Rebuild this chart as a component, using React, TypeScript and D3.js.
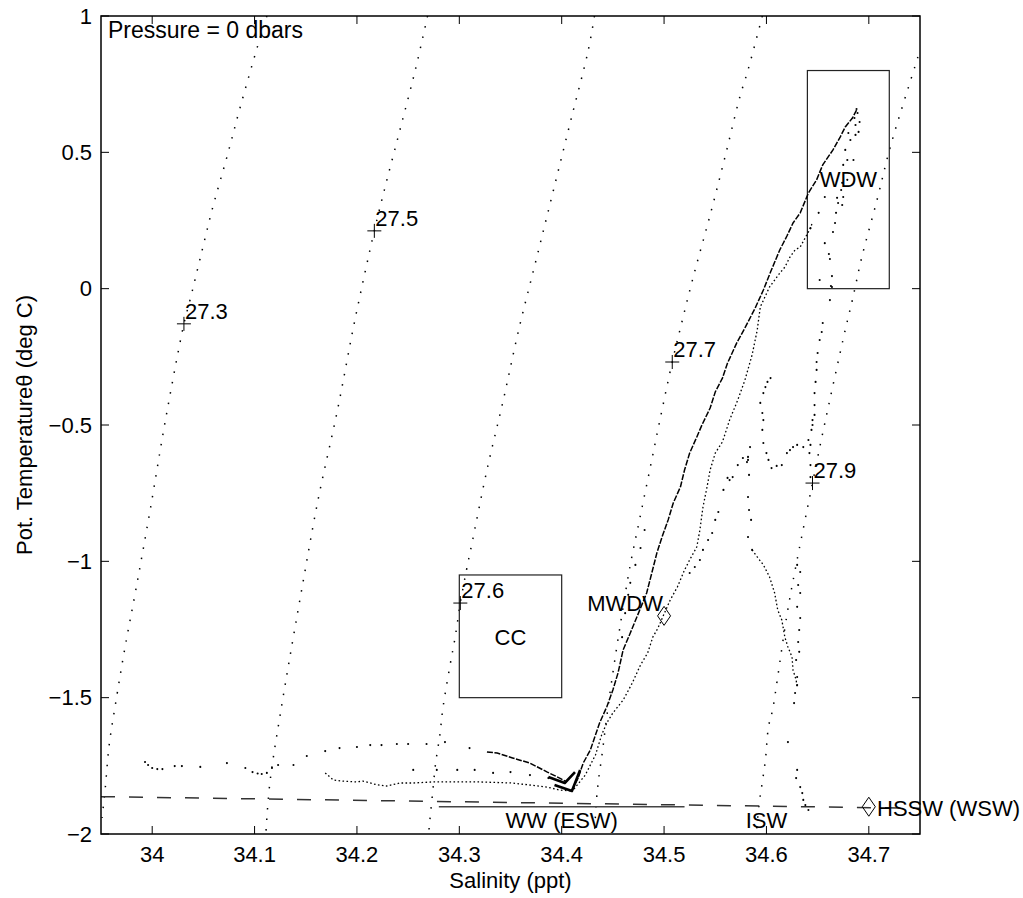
import React from 'react';
import * as d3 from 'd3';

type P = [number, number];

const W = 1023;
const H = 898;
const M = { left: 101, right: 920, top: 16, bottom: 834 };

const xDomain: P = [33.95, 34.75];
const yDomain: P = [-2, 1];
const xTicks = [34, 34.1, 34.2, 34.3, 34.4, 34.5, 34.6, 34.7];
const xTickLabels = ['34', '34.1', '34.2', '34.3', '34.4', '34.5', '34.6', '34.7'];
const yTicks = [-2, -1.5, -1, -0.5, 0, 0.5, 1];
const yTickLabels = ['\u22122', '\u22121.5', '\u22121', '\u22120.5', '0', '0.5', '1'];

// isopycnals (sigma-0)
const iso273: P[] = [[34.112, 1.0], [34.103, 0.89], [34.086, 0.666], [34.073, 0.483], [34.059, 0.296], [34.047, 0.113], [34.037, -0.041], [34.031, -0.129], [34.013, -0.481], [33.998, -0.812], [33.984, -1.105], [33.973, -1.325], [33.964, -1.527], [33.958, -1.673], [33.954, -1.838], [33.951, -1.941]];
const iso275: P[] = [[34.269, 1.0], [34.257, 0.802], [34.242, 0.582], [34.228, 0.38], [34.217, 0.212], [34.198, -0.115], [34.181, -0.445], [34.162, -0.775], [34.146, -1.105], [34.134, -1.362], [34.125, -1.563], [34.118, -1.728], [34.114, -1.846], [34.111, -2.0]];
const iso276: P[] = [[34.432, 1.0], [34.426, 0.875], [34.409, 0.619], [34.392, 0.362], [34.375, 0.105], [34.358, -0.151], [34.343, -0.408], [34.327, -0.665], [34.313, -0.922], [34.307, -1.032], [34.301, -1.153], [34.296, -1.277], [34.291, -1.38], [34.284, -1.538], [34.281, -1.637], [34.277, -1.736], [34.274, -1.846], [34.271, -1.959], [34.27, -2.0]];
const iso277: P[] = [[34.596, 1.0], [34.582, 0.802], [34.574, 0.703], [34.56, 0.49], [34.545, 0.27], [34.529, 0.05], [34.516, -0.144], [34.508, -0.269], [34.496, -0.481], [34.486, -0.665], [34.476, -0.848], [34.467, -1.013], [34.458, -1.215], [34.449, -1.435], [34.443, -1.6], [34.44, -1.692], [34.436, -1.802], [34.434, -1.875], [34.432, -2.0]];
const iso279: P[] = [[34.754, 0.923], [34.748, 0.85], [34.721, 0.52], [34.708, 0.325], [34.693, 0.113], [34.684, -0.041], [34.677, -0.151], [34.655, -0.529], [34.645, -0.713], [34.628, -1.032], [34.62, -1.197], [34.611, -1.424], [34.606, -1.545], [34.602, -1.607], [34.599, -1.728], [34.596, -1.809], [34.593, -1.886], [34.59, -2.0]];
const isopycnals = [iso273, iso275, iso276, iso277, iso279];

const isoLabelText = ['27.3', '27.5', '27.6', '27.7', '27.9'];
const isoLabelPos: P[] = [[34.031, -0.129], [34.217, 0.212], [34.301, -1.153], [34.508, -0.269], [34.645, -0.713]];

const surfaceUpperLeft: P[] = [[33.993, -1.736], [33.996, -1.747], [34.0, -1.758], [34.005, -1.762], [34.01, -1.762], [34.022, -1.751], [34.029, -1.751], [34.047, -1.754], [34.073, -1.74], [34.091, -1.758], [34.098, -1.773], [34.103, -1.778], [34.107, -1.78], [34.112, -1.776], [34.117, -1.758], [34.123, -1.747], [34.138, -1.747]];
const surfaceArcSparse: P[] = [[34.151, -1.714], [34.169, -1.696], [34.183, -1.685], [34.2, -1.681], [34.213, -1.674], [34.224, -1.674], [34.239, -1.67], [34.25, -1.67], [34.268, -1.67], [34.286, -1.663], [34.31, -1.685]];
const surfaceArcDense: P[] = [[34.327, -1.699], [34.337, -1.703], [34.352, -1.721], [34.369, -1.74], [34.386, -1.773], [34.398, -1.795], [34.405, -1.809]];
const surfaceLower: P[] = [[34.169, -1.776], [34.177, -1.802], [34.186, -1.806], [34.2, -1.809], [34.206, -1.806], [34.22, -1.82], [34.229, -1.824], [34.242, -1.813], [34.255, -1.813], [34.274, -1.809], [34.288, -1.809], [34.32, -1.809], [34.352, -1.813], [34.386, -1.828], [34.398, -1.839], [34.41, -1.842]];
const surfaceMid: P[] = [[34.255, -1.765], [34.278, -1.765], [34.298, -1.765], [34.315, -1.765], [34.333, -1.776], [34.35, -1.773], [34.369, -1.784], [34.387, -1.795]];
const vertexLower: P[] = [[34.393, -1.82], [34.41, -1.842], [34.418, -1.765]];
const vertexUpper: P[] = [[34.387, -1.791], [34.403, -1.813], [34.413, -1.773]];

const branchL: P[] = [[34.41, -1.839], [34.416, -1.795], [34.421, -1.74], [34.428, -1.692], [34.437, -1.593], [34.444, -1.534], [34.45, -1.472], [34.455, -1.41], [34.46, -1.325], [34.467, -1.263], [34.475, -1.19], [34.483, -1.116], [34.488, -1.043], [34.493, -0.969], [34.498, -0.911], [34.504, -0.848], [34.509, -0.786], [34.516, -0.727], [34.52, -0.665], [34.525, -0.603], [34.532, -0.544], [34.537, -0.5], [34.545, -0.438], [34.55, -0.379], [34.557, -0.328], [34.562, -0.273], [34.571, -0.199], [34.579, -0.144], [34.589, -0.071], [34.597, -0.005], [34.604, 0.061], [34.613, 0.142], [34.62, 0.193], [34.626, 0.241], [34.633, 0.278], [34.641, 0.351], [34.649, 0.399], [34.655, 0.454], [34.665, 0.509], [34.672, 0.556], [34.677, 0.593], [34.684, 0.626], [34.688, 0.655]];
const branchR: P[] = [[34.412, -1.835], [34.423, -1.784], [34.433, -1.71], [34.439, -1.637], [34.444, -1.593], [34.45, -1.556], [34.46, -1.509], [34.469, -1.446], [34.477, -1.38], [34.484, -1.336], [34.489, -1.278], [34.494, -1.245], [34.5, -1.193], [34.506, -1.142], [34.513, -1.094], [34.52, -1.032], [34.525, -0.995], [34.532, -0.947], [34.535, -0.885], [34.538, -0.801], [34.542, -0.727], [34.545, -0.665], [34.55, -0.603], [34.557, -0.562], [34.564, -0.482], [34.572, -0.408], [34.579, -0.335], [34.586, -0.243], [34.591, -0.152], [34.594, -0.067], [34.603, 0.006], [34.613, 0.057], [34.618, 0.079], [34.623, 0.116], [34.628, 0.142], [34.633, 0.153], [34.643, 0.222], [34.645, 0.244]];
const branchS1: P[] = [[34.459, -1.278], [34.462, -1.19], [34.465, -1.123], [34.467, -1.079], [34.472, -1.013], [34.477, -0.951], [34.481, -0.885]];
const branchM2: P[] = [[34.525, -1.043], [34.53, -1.021], [34.535, -0.995], [34.538, -0.958], [34.543, -0.922], [34.547, -0.896], [34.55, -0.848], [34.553, -0.819], [34.558, -0.738], [34.562, -0.694], [34.564, -0.702], [34.567, -0.691], [34.572, -0.647], [34.577, -0.621], [34.581, -0.636], [34.582, -0.617], [34.584, -0.581]];
const iswUpper: P[] = [[34.582, -0.628], [34.583, -0.683], [34.582, -0.764], [34.583, -0.812], [34.585, -0.848], [34.582, -0.911], [34.586, -0.958]];
const iswDense: P[] = [[34.586, -0.958], [34.591, -0.984], [34.597, -1.013], [34.603, -1.057], [34.608, -1.116], [34.611, -1.178], [34.615, -1.215], [34.618, -1.278], [34.621, -1.314], [34.625, -1.351], [34.626, -1.399], [34.629, -1.435], [34.63, -1.461]];
const iswLower: P[] = [[34.628, -1.483], [34.627, -1.52], [34.621, -1.663], [34.63, -1.765], [34.629, -1.795], [34.633, -1.828], [34.635, -1.85], [34.636, -1.875], [34.638, -1.894], [34.641, -1.912]];
const spike: P[] = [[34.604, -0.328], [34.601, -0.342], [34.599, -0.361], [34.597, -0.383], [34.594, -0.419], [34.596, -0.456], [34.597, -0.482], [34.596, -0.518], [34.597, -0.566], [34.6, -0.603], [34.602, -0.628], [34.605, -0.658]];
const wiggle: P[] = [[34.61, -0.65], [34.615, -0.647], [34.62, -0.603], [34.623, -0.592], [34.626, -0.581], [34.63, -0.573], [34.636, -0.581], [34.641, -0.555]];
const rightColumn: P[] = [[34.664, 0.006], [34.662, -0.042], [34.655, -0.126], [34.654, -0.159], [34.652, -0.188], [34.65, -0.236], [34.649, -0.269], [34.649, -0.298], [34.648, -0.342], [34.647, -0.383], [34.647, -0.427], [34.647, -0.463], [34.645, -0.482], [34.645, -0.5], [34.644, -0.518], [34.643, -0.573], [34.642, -0.603], [34.643, -0.647], [34.643, -0.691], [34.63, -1.013], [34.633, -1.039], [34.631, -1.087], [34.633, -1.116], [34.63, -1.167], [34.633, -1.208], [34.632, -1.252], [34.631, -1.296], [34.632, -1.332], [34.629, -1.362], [34.63, -1.424], [34.63, -1.454]];
const wdwScatter: P[] = [[34.688, 0.659], [34.689, 0.644], [34.686, 0.626], [34.691, 0.611], [34.687, 0.6], [34.69, 0.575], [34.687, 0.564], [34.682, 0.545], [34.68, 0.571], [34.677, 0.509], [34.679, 0.472], [34.685, 0.472], [34.675, 0.454], [34.679, 0.399], [34.674, 0.388], [34.673, 0.362], [34.675, 0.336], [34.669, 0.333], [34.67, 0.314], [34.674, 0.307], [34.668, 0.278], [34.667, 0.241], [34.665, 0.208], [34.657, 0.167], [34.661, 0.127], [34.662, 0.109], [34.664, 0.046], [34.663, 0.01], [34.652, 0.032], [34.643, 0.222], [34.651, 0.278], [34.657, 0.336]];

const solidTraces = [branchL, surfaceArcDense];
const thickTraces = [vertexLower, vertexUpper];
const dottedTraces = [branchR, surfaceLower, iswDense];
const dotTraces = [surfaceUpperLeft, surfaceArcSparse, surfaceMid, branchS1, branchM2, iswUpper, iswLower, spike, wiggle, rightColumn, wdwScatter];

// reference lines and water-mass boxes
const freezingLine: P[] = [[33.95, -1.863], [34.75, -1.906]];
const wwLine: P[] = [[34.28, -1.9], [34.52, -1.9]];
const wdwBox: number[] = [34.64, 34.72, 0, 0.8];
const ccBox: number[] = [34.3, 34.4, -1.5, -1.05];
const diamondPts: P[] = [[34.5, -1.2], [34.7, -1.9]];

const massText = ['WDW', 'CC', 'MWDW', 'HSSW (WSW)', 'WW (ESW)', 'ISW'];
const massPos: P[] = [[34.68, 0.4], [34.35, -1.28], [34.499, -1.155], [34.708, -1.905], [34.4, -1.952], [34.6, -1.952]];
const massAnchor = ['middle', 'middle', 'end', 'start', 'middle', 'middle'];

const FONT = '"Liberation Sans", Arial, Helvetica, sans-serif';

export default function App() {
  const x = d3.scaleLinear().domain(xDomain).range([M.left, M.right]);
  const y = d3.scaleLinear().domain(yDomain).range([M.bottom, M.top]);
  const lin = d3.line<P>().x((d) => x(d[0])).y((d) => y(d[1]));
  const smooth = d3.line<P>().x((d) => x(d[0])).y((d) => y(d[1])).curve(d3.curveCatmullRom);
  const box = (b: number[]) => (
    <rect x={x(b[0])} y={y(b[3])} width={x(b[1]) - x(b[0])} height={y(b[2]) - y(b[3])} fill="none" stroke="#222" strokeWidth={1.2} />
  );
  const fs = 22;

  return (
    <svg width={W} height={H} style={{ position: 'absolute', left: 0, top: 0, background: '#fff' }} fontFamily={FONT}>
      <rect width={W} height={H} fill="#fff" />
      <defs>
        <clipPath id="plotclip">
          <rect x={M.left} y={M.top} width={M.right - M.left} height={M.bottom - M.top} />
        </clipPath>
      </defs>
      <g clipPath="url(#plotclip)">
        {isopycnals.map((c, i) => (
          <path key={'iso' + i} d={smooth(c) || ''} fill="none" stroke="#000" strokeWidth={1.5} strokeDasharray="1.5 9" />
        ))}
        <path d={lin(freezingLine) || ''} fill="none" stroke="#333" strokeWidth={1.5} strokeDasharray="14 14" />
        <path d={lin(wwLine) || ''} fill="none" stroke="#444" strokeWidth={1.6} />
        {box(wdwBox)}
        {box(ccBox)}
        {solidTraces.map((t, i) => (
          <path key={'s' + i} d={lin(t) || ''} fill="none" stroke="#000" strokeWidth={1.5} strokeDasharray="6 1.5" />
        ))}
        {thickTraces.map((t, i) => (
          <path key={'k' + i} d={lin(t) || ''} fill="none" stroke="#000" strokeWidth={2.6} strokeLinejoin="round" />
        ))}
        {dottedTraces.map((t, i) => (
          <path key={'d' + i} d={lin(t) || ''} fill="none" stroke="#000" strokeWidth={1.3} strokeDasharray="1.6 2.4" />
        ))}
        {dotTraces.map((t, i) =>
          t.map((p, j) => <circle key={'p' + i + '_' + j} cx={x(p[0])} cy={y(p[1])} r={1.05} fill="#000" />)
        )}
      </g>

      {/* isopycnal labels */}
      {isoLabelPos.map((p, i) => (
        <g key={'il' + i}>
          <path d={`M${x(p[0]) - 7},${y(p[1])}h14M${x(p[0])},${y(p[1]) - 7}v14`} stroke="#000" strokeWidth={1} />
          <text x={x(p[0]) + 1} y={y(p[1]) - 5} fontSize={fs} fill="#000">{isoLabelText[i]}</text>
        </g>
      ))}

      {/* diamonds */}
      {diamondPts.map((p, i) => (
        <path key={'dm' + i} d={`M${x(p[0])},${y(p[1]) - 9.5}l6.5,9.5l-6.5,9.5l-6.5,-9.5z`} fill="none" stroke="#000" strokeWidth={1} />
      ))}

      {/* water-mass labels */}
      {massText.map((t, i) => (
        <text key={'mt' + i} x={x(massPos[i][0])} y={y(massPos[i][1])} fontSize={fs} textAnchor={massAnchor[i] as any} dominantBaseline="central" fill="#000">{t}</text>
      ))}

      <text x={M.left + 7} y={M.top + 22} fontSize={23} fill="#000">Pressure = 0 dbars</text>

      {/* axes box */}
      <rect x={M.left} y={M.top} width={M.right - M.left} height={M.bottom - M.top} fill="none" stroke="#000" strokeWidth={1.5} />
      {xTicks.map((t, i) => (
        <g key={'xt' + i}>
          <line x1={x(t)} x2={x(t)} y1={M.bottom} y2={M.bottom - 8} stroke="#000" strokeWidth={1} />
          <line x1={x(t)} x2={x(t)} y1={M.top} y2={M.top + 8} stroke="#000" strokeWidth={1} />
          <text x={x(t)} y={M.bottom + 28} fontSize={fs} textAnchor="middle" fill="#000">{xTickLabels[i]}</text>
        </g>
      ))}
      {yTicks.map((t, i) => (
        <g key={'yt' + i}>
          <line x1={M.left} x2={M.left + 8} y1={y(t)} y2={y(t)} stroke="#000" strokeWidth={1} />
          <line x1={M.right} x2={M.right - 8} y1={y(t)} y2={y(t)} stroke="#000" strokeWidth={1} />
          <text x={M.left - 9} y={y(t)} fontSize={fs} textAnchor="end" dominantBaseline="central" fill="#000">{yTickLabels[i]}</text>
        </g>
      ))}
      <text x={(M.left + M.right) / 2} y={888} fontSize={fs} textAnchor="middle" fill="#000">Salinity (ppt)</text>
      <text transform={`translate(32,${(M.top + M.bottom) / 2}) rotate(-90)`} fontSize={fs} textAnchor="middle" fill="#000">Pot. Temperatureθ (deg C)</text>
    </svg>
  );
}
